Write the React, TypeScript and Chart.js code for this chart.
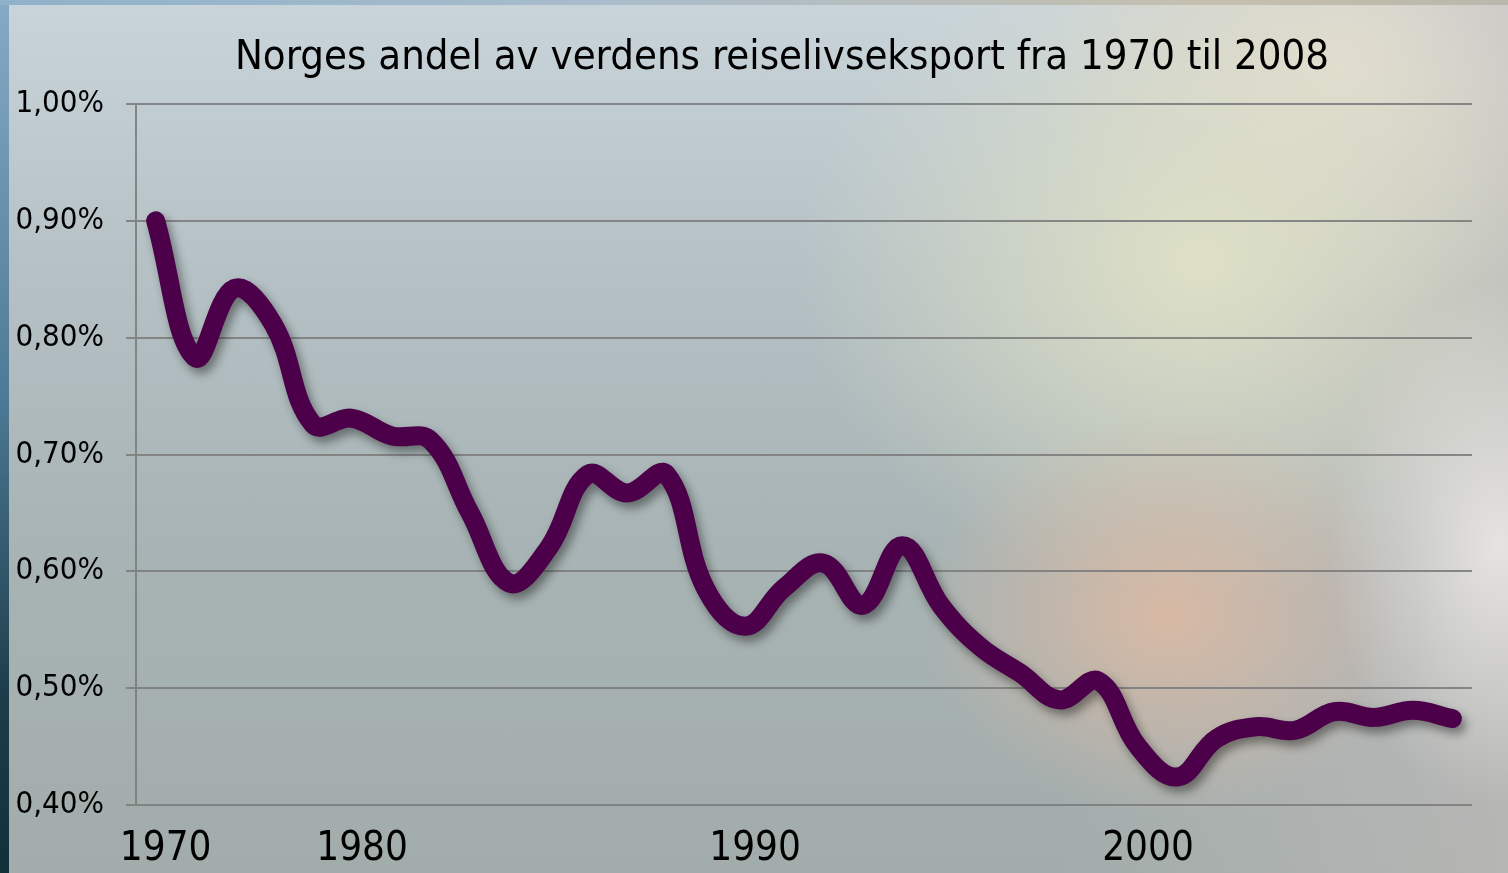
import React, { useEffect, useRef } from "react";
import { Chart, registerables } from "chart.js";

Chart.register(...registerables);

const TITLE = "Norges andel av verdens reiselivseksport fra 1970 til 2008";

// Categories (every second year in the 1970s, then yearly)
const years = [
  "1970", "1972", "1974", "1976", "1978",
  "1980", "1981", "1982", "1983", "1984", "1985", "1986", "1987", "1988", "1989",
  "1990", "1991", "1992", "1993", "1994", "1995", "1996", "1997", "1998", "1999",
  "2000", "2001", "2002", "2003", "2004", "2005", "2006", "2007", "2008",
];

// Norway's share of world tourism exports, in percent
const shareValues = [
  0.900, 0.783, 0.842, 0.811, 0.726,
  0.731, 0.716, 0.712, 0.650, 0.590, 0.620, 0.683, 0.667, 0.683, 0.585,
  0.553, 0.586, 0.607, 0.571, 0.622, 0.570, 0.535, 0.513, 0.490, 0.506,
  0.450, 0.424, 0.457, 0.467, 0.464, 0.480, 0.475, 0.481, 0.474,
];

const shownYears = ["1970", "1980", "1990", "2000"];
const yMin = 0.4;
const yMax = 1.0;
const yStep = 0.1;

const FONT = "'DejaVu Sans Condensed', 'DejaVu Sans', Verdana, sans-serif";

const shadowPlugin = {
  id: "lineShadow",
  beforeDatasetDraw(chart: any) {
    const ctx = chart.ctx;
    ctx.save();
    ctx.shadowColor = "rgba(20,20,20,0.45)";
    ctx.shadowBlur = 10;
    ctx.shadowOffsetX = 4;
    ctx.shadowOffsetY = 6;
  },
  afterDatasetDraw(chart: any) {
    chart.ctx.restore();
  },
};

// Title drawn slightly right of the chart centre, as in the original slide
const titlePlugin = {
  id: "slideTitle",
  afterDraw(chart: any) {
    const ctx = chart.ctx;
    ctx.save();
    ctx.font = `normal 41.5px ${FONT}`;
    ctx.fillStyle = "#000000";
    ctx.textAlign = "center";
    ctx.textBaseline = "alphabetic";
    ctx.fillText(TITLE, 782, 69);
    ctx.restore();
  },
};

export default function App() {
  const canvasRef = useRef<HTMLCanvasElement | null>(null);

  useEffect(() => {
    document.body.style.margin = "0";
    if (!canvasRef.current) return;
    const chart = new Chart(canvasRef.current, {
      type: "line",
      data: {
        labels: years,
        datasets: [
          {
            data: shareValues,
            borderColor: "#4b0049",
            borderWidth: 19,
            borderCapStyle: "round",
            borderJoinStyle: "round",
            pointRadius: 0,
            pointHoverRadius: 0,
            tension: 0.4,
            fill: false,
            clip: false as any,
          },
        ],
      },
      plugins: [shadowPlugin, titlePlugin],
      options: {
        animation: false,
        responsive: true,
        maintainAspectRatio: false,
        layout: { padding: { left: 0, right: 36, top: 104, bottom: 0 } },
        plugins: {
          legend: { display: false },
          tooltip: { enabled: false },
          title: { display: false },
        },
        scales: {
          x: {
            type: "category",
            offset: true,
            grid: { display: false },
            border: { display: false },
            afterFit: (scale: any) => {
              scale.height = 68;
            },
            ticks: {
              autoSkip: false,
              maxRotation: 0,
              minRotation: 0,
              color: "#000000",
              padding: 13,
              labelOffset: 10,
              font: { family: FONT, size: 40 },
              callback: function (this: any, value: any) {
                const lbl = this.getLabelForValue(value);
                return shownYears.includes(lbl) ? lbl : "";
              },
            },
          },
          y: {
            min: yMin,
            max: yMax,
            afterFit: (scale: any) => {
              scale.width = 136;
            },
            grid: {
              color: "rgba(125,125,125,0.9)",
              lineWidth: 2,
              drawTicks: true,
              tickLength: 10,
            },
            border: { display: true, color: "rgba(125,125,125,0.9)", width: 2 },
            ticks: {
              stepSize: yStep,
              color: "#000000",
              padding: 22,
              font: { family: FONT, size: 31 },
              callback: (v: any) => Number(v).toFixed(2).replace(".", ",") + "%",
            },
          },
        },
      },
    });
    return () => chart.destroy();
  }, []);

  return (
    <div
      style={{
        position: "fixed",
        left: 0,
        top: 0,
        width: 1508,
        height: 873,
        overflow: "hidden",
        background: "linear-gradient(to bottom, #86aac6 0%, #4d7a96 45%, #1d3c4a 80%, #12303a 100%)",
      }}
    >
      <div
        style={{
          position: "absolute",
          left: 0,
          top: 0,
          width: 1508,
          height: 5,
          background: "linear-gradient(to right, #8fb2ca 0%, #a9bccb 40%, #c6bfae 80%, #b8b8ac 100%)",
        }}
      />
      <div
        style={{
          position: "absolute",
          left: 9,
          top: 5,
          width: 1499,
          height: 868,
          background: [
            "radial-gradient(ellipse 170px 260px at 1490px 540px, rgba(232,230,226,0.95) 0%, rgba(232,230,226,0) 100%)",
            "radial-gradient(ellipse 250px 200px at 1160px 610px, rgba(218,186,164,0.95) 0%, rgba(218,186,164,0) 100%)",
            "radial-gradient(ellipse 400px 340px at 1190px 260px, rgba(224,226,198,0.95) 0%, rgba(224,226,198,0) 100%)",
            "radial-gradient(ellipse 300px 250px at 1330px 60px, rgba(228,222,210,0.9) 0%, rgba(228,222,210,0) 100%)",
            "linear-gradient(to right, rgba(0,0,0,0) 70%, rgba(190,186,184,0.7) 100%)",
            "linear-gradient(to bottom, #c9d4da 0%, #b5c1c5 30%, #a8b4b5 60%, #a2acaa 100%)",
          ].join(", "),
        }}
      />
      <div style={{ position: "absolute", left: 0, top: 0, width: 1508, height: 873 }}>
        <canvas ref={canvasRef} />
      </div>
    </div>
  );
}
